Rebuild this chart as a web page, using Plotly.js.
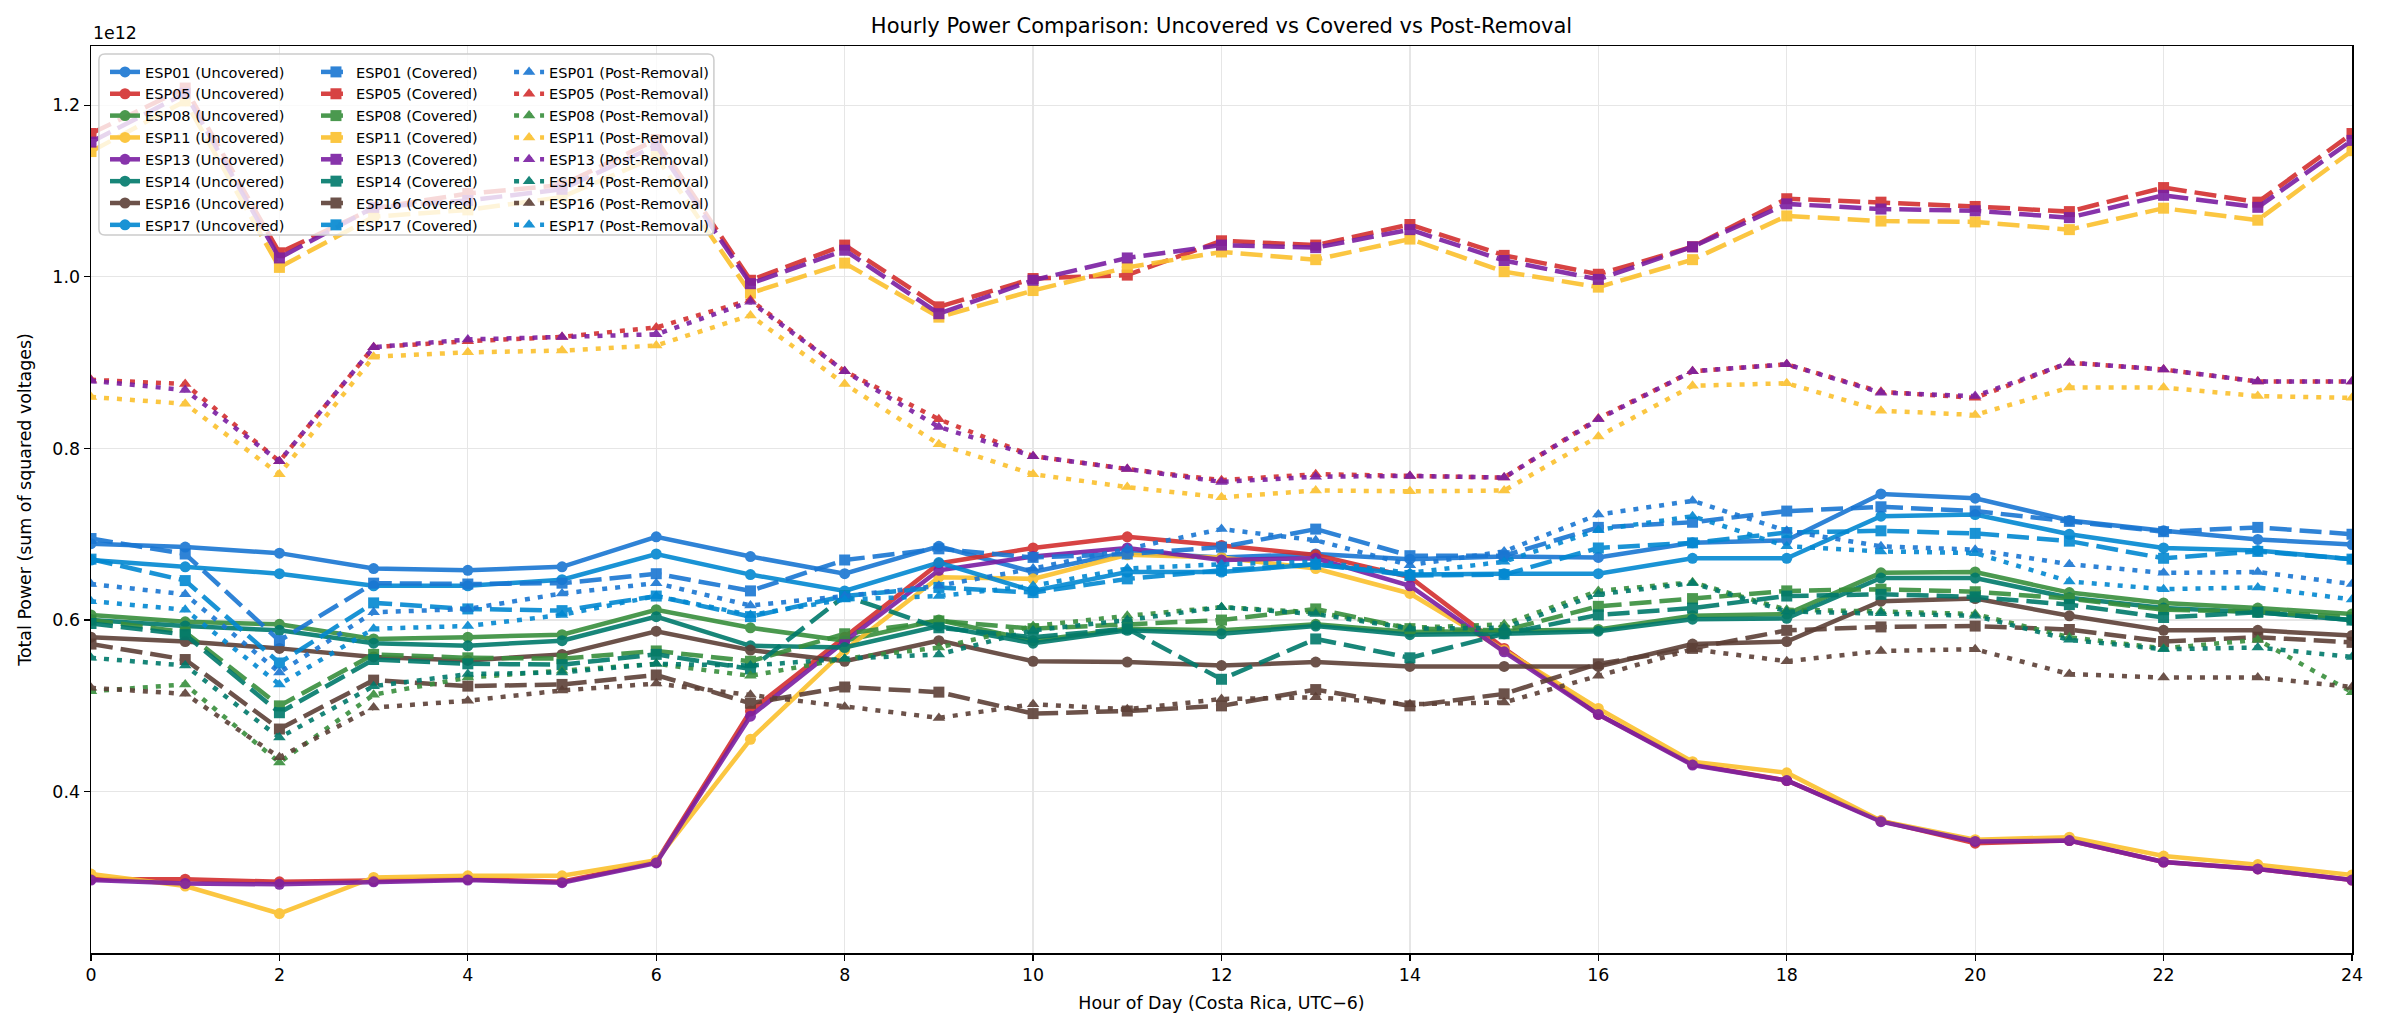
<!DOCTYPE html>
<html>
<head>
<meta charset="utf-8">
<script src="https://cdn.plot.ly/plotly-3.0.1.min.js"></script>
<style>
  body { margin: 0; background: #fff; }
  #grafico { width: 2384px; height: 1031px; }
</style>
</head>
<body>
<div id="grafico"></div>
<script>
// hours of the day (x axis)
const hours = [0, 1, 2, 3, 4, 5, 6, 7, 8, 9, 10, 11, 12, 13, 14, 15, 16, 17, 18, 19, 20, 21, 22, 23, 24];
const xTicks = [0, 2, 4, 6, 8, 10, 12, 14, 16, 18, 20, 22, 24];
const yTicks = [0.4, 0.6, 0.8, 1.0, 1.2];

const sensors = ['ESP01', 'ESP05', 'ESP08', 'ESP11', 'ESP13', 'ESP14', 'ESP16', 'ESP17'];
const sensorColors = ['#1976D2', '#D32F2F', '#388E3C', '#FBC02D', '#7B1FA2', '#00796B', '#5D4037', '#0288D1'];

// total power, in units of 1e12
const uncoveredESP01 = [0.689, 0.685, 0.678, 0.660, 0.658, 0.662, 0.697, 0.674, 0.654, 0.686, 0.656, 0.679, 0.673, 0.677, 0.671, 0.674, 0.673, 0.690, 0.693, 0.747, 0.742, 0.716, 0.704, 0.694, 0.688];
const uncoveredESP05 = [0.298, 0.298, 0.295, 0.296, 0.298, 0.295, 0.318, 0.494, 0.580, 0.666, 0.684, 0.697, 0.687, 0.676, 0.650, 0.567, 0.490, 0.432, 0.413, 0.366, 0.340, 0.343, 0.318, 0.310, 0.297];
const uncoveredESP08 = [0.606, 0.598, 0.595, 0.578, 0.580, 0.583, 0.612, 0.591, 0.576, 0.600, 0.576, 0.590, 0.588, 0.595, 0.586, 0.587, 0.589, 0.605, 0.607, 0.655, 0.656, 0.632, 0.620, 0.614, 0.607];
const uncoveredESP11 = [0.304, 0.290, 0.258, 0.300, 0.302, 0.302, 0.320, 0.461, 0.565, 0.650, 0.648, 0.676, 0.673, 0.660, 0.631, 0.565, 0.497, 0.435, 0.422, 0.366, 0.344, 0.347, 0.325, 0.315, 0.303];
const uncoveredESP13 = [0.297, 0.293, 0.292, 0.295, 0.297, 0.294, 0.317, 0.488, 0.575, 0.658, 0.674, 0.684, 0.670, 0.672, 0.640, 0.563, 0.490, 0.431, 0.413, 0.365, 0.342, 0.343, 0.318, 0.310, 0.297];
const uncoveredESP14 = [0.600, 0.593, 0.588, 0.573, 0.570, 0.576, 0.604, 0.570, 0.568, 0.593, 0.573, 0.588, 0.584, 0.593, 0.583, 0.584, 0.587, 0.601, 0.602, 0.649, 0.649, 0.626, 0.614, 0.609, 0.600];
const uncoveredESP16 = [0.580, 0.575, 0.567, 0.557, 0.553, 0.560, 0.587, 0.565, 0.552, 0.576, 0.552, 0.551, 0.547, 0.551, 0.546, 0.546, 0.546, 0.572, 0.575, 0.622, 0.625, 0.605, 0.588, 0.588, 0.582];
const uncoveredESP17 = [0.670, 0.662, 0.654, 0.640, 0.640, 0.647, 0.677, 0.653, 0.634, 0.667, 0.634, 0.656, 0.656, 0.665, 0.653, 0.654, 0.654, 0.672, 0.672, 0.721, 0.723, 0.700, 0.684, 0.681, 0.671];

const coveredESP01 = [0.695, 0.677, 0.576, 0.643, 0.642, 0.643, 0.654, 0.634, 0.670, 0.683, 0.673, 0.677, 0.685, 0.706, 0.675, 0.675, 0.708, 0.714, 0.727, 0.732, 0.727, 0.715, 0.703, 0.708, 0.700];
const coveredESP05 = [1.167, 1.220, 1.028, 1.080, 1.097, 1.107, 1.160, 0.996, 1.037, 0.965, 0.998, 1.002, 1.042, 1.037, 1.061, 1.025, 1.003, 1.035, 1.091, 1.087, 1.082, 1.076, 1.104, 1.087, 1.167];
const coveredESP08 = [0.600, 0.586, 0.500, 0.560, 0.556, 0.555, 0.564, 0.552, 0.584, 0.599, 0.590, 0.595, 0.600, 0.613, 0.590, 0.588, 0.616, 0.625, 0.634, 0.636, 0.633, 0.625, 0.612, 0.610, 0.603];
const coveredESP11 = [1.146, 1.205, 1.011, 1.070, 1.078, 1.093, 1.140, 0.981, 1.016, 0.953, 0.984, 1.011, 1.029, 1.020, 1.044, 1.006, 0.988, 1.020, 1.071, 1.065, 1.064, 1.055, 1.080, 1.066, 1.147];
const coveredESP13 = [1.157, 1.214, 1.022, 1.081, 1.089, 1.102, 1.153, 0.992, 1.031, 0.957, 0.996, 1.022, 1.037, 1.034, 1.055, 1.019, 0.997, 1.035, 1.085, 1.079, 1.077, 1.069, 1.095, 1.081, 1.159];
const coveredESP14 = [0.596, 0.583, 0.492, 0.554, 0.549, 0.548, 0.560, 0.543, 0.628, 0.591, 0.580, 0.590, 0.531, 0.578, 0.556, 0.584, 0.606, 0.614, 0.628, 0.630, 0.627, 0.618, 0.603, 0.609, 0.600];
const coveredESP16 = [0.572, 0.554, 0.473, 0.530, 0.523, 0.525, 0.536, 0.503, 0.522, 0.516, 0.491, 0.494, 0.500, 0.519, 0.500, 0.514, 0.549, 0.567, 0.588, 0.592, 0.593, 0.589, 0.575, 0.580, 0.574];
const coveredESP17 = [0.671, 0.646, 0.550, 0.620, 0.613, 0.611, 0.628, 0.604, 0.628, 0.638, 0.632, 0.648, 0.658, 0.665, 0.652, 0.653, 0.684, 0.690, 0.702, 0.704, 0.701, 0.692, 0.672, 0.680, 0.671];

const postESP01 = [0.642, 0.630, 0.539, 0.609, 0.613, 0.631, 0.643, 0.617, 0.628, 0.640, 0.660, 0.683, 0.706, 0.693, 0.664, 0.680, 0.723, 0.739, 0.704, 0.686, 0.682, 0.665, 0.655, 0.656, 0.642];
const postESP05 = [0.880, 0.875, 0.785, 0.918, 0.925, 0.930, 0.941, 0.973, 0.890, 0.834, 0.791, 0.776, 0.763, 0.770, 0.768, 0.766, 0.835, 0.890, 0.898, 0.866, 0.859, 0.900, 0.892, 0.878, 0.878];
const postESP08 = [0.517, 0.525, 0.434, 0.513, 0.533, 0.541, 0.549, 0.535, 0.555, 0.568, 0.593, 0.605, 0.615, 0.609, 0.591, 0.595, 0.634, 0.644, 0.612, 0.610, 0.607, 0.580, 0.567, 0.577, 0.516];
const postESP11 = [0.860, 0.852, 0.770, 0.907, 0.912, 0.914, 0.920, 0.955, 0.875, 0.805, 0.770, 0.755, 0.743, 0.751, 0.750, 0.751, 0.814, 0.873, 0.876, 0.844, 0.839, 0.871, 0.871, 0.861, 0.859];
const postESP13 = [0.879, 0.868, 0.785, 0.918, 0.927, 0.930, 0.933, 0.971, 0.890, 0.825, 0.791, 0.776, 0.761, 0.767, 0.768, 0.766, 0.834, 0.890, 0.898, 0.865, 0.861, 0.900, 0.892, 0.878, 0.878];
const postESP14 = [0.556, 0.547, 0.463, 0.523, 0.537, 0.539, 0.549, 0.547, 0.555, 0.560, 0.588, 0.600, 0.615, 0.607, 0.590, 0.591, 0.630, 0.643, 0.610, 0.608, 0.605, 0.577, 0.566, 0.568, 0.557];
const postESP16 = [0.521, 0.514, 0.440, 0.498, 0.506, 0.518, 0.526, 0.513, 0.499, 0.486, 0.502, 0.496, 0.508, 0.510, 0.502, 0.504, 0.535, 0.566, 0.552, 0.564, 0.566, 0.537, 0.533, 0.533, 0.522];
const postESP17 = [0.622, 0.612, 0.525, 0.590, 0.593, 0.606, 0.628, 0.606, 0.624, 0.628, 0.640, 0.660, 0.665, 0.668, 0.655, 0.668, 0.705, 0.721, 0.686, 0.680, 0.678, 0.645, 0.636, 0.638, 0.624];

const uncovered = [uncoveredESP01, uncoveredESP05, uncoveredESP08, uncoveredESP11, uncoveredESP13, uncoveredESP14, uncoveredESP16, uncoveredESP17];
const covered = [coveredESP01, coveredESP05, coveredESP08, coveredESP11, coveredESP13, coveredESP14, coveredESP16, coveredESP17];
const postRemoval = [postESP01, postESP05, postESP08, postESP11, postESP13, postESP14, postESP16, postESP17];

// rounded box in paper units (corner radius given in pixels of the plot area)
function roundedBox(x0, x1, y0, y1, rpx, plotW, plotH) {
    const rx = rpx / plotW;
    const ry = rpx / plotH;
    return `M ${x0 + rx},${y1} L ${x1 - rx},${y1} Q ${x1},${y1} ${x1},${y1 - ry} ` +
           `L ${x1},${y0 + ry} Q ${x1},${y0} ${x1 - rx},${y0} ` +
           `L ${x0 + rx},${y0} Q ${x0},${y0} ${x0},${y0 + ry} ` +
           `L ${x0},${y1 - ry} Q ${x0},${y1} ${x0 + rx},${y1} Z`;
}

document.addEventListener('DOMContentLoaded', () => {
    const font = 'DejaVu Sans, sans-serif';

    // one entry per condition, each one gets its own legend column
    const conditions = [
        { label: 'Uncovered', series: uncovered, symbol: 'circle', dash: 'solid', legend: 'legend' },
        { label: 'Covered', series: covered, symbol: 'square', dash: '22px,8px', legend: 'legend2' },
        { label: 'Post-Removal', series: postRemoval, symbol: 'triangle-up', dash: '5px,8px', legend: 'legend3' }
    ];

    const traces = [];
    conditions.forEach((cond) => {
        sensors.forEach((sensor, i) => {
            traces.push({
                x: hours,
                y: cond.series[i],
                type: 'scatter',
                mode: 'lines+markers',
                name: `${sensor} (${cond.label})`,
                legend: cond.legend,
                opacity: 0.9,
                line: { color: sensorColors[i], width: 4.5, dash: cond.dash },
                marker: { color: sensorColors[i], symbol: cond.symbol, size: 11 }
            });
        });
    });

    const legendBase = {
        y: 0.989, yanchor: 'top', xanchor: 'left',
        bgcolor: 'rgba(0,0,0,0)', borderwidth: 0,
        font: { family: font, size: 14.5, color: '#000' },
        tracegroupgap: 0
    };

    const axisBase = {
        showgrid: true,
        gridcolor: '#e6e6e6',
        gridwidth: 1.3,
        showline: true,
        mirror: true,
        linecolor: '#000',
        linewidth: 1.5,
        ticks: 'outside',
        ticklen: 6,
        tickwidth: 1.3,
        tickcolor: '#000',
        zeroline: false,
        tickfont: { family: font, size: 17.4, color: '#000' }
    };

    const layout = {
        width: 2384,
        height: 1031,
        margin: { l: 91, r: 32, t: 46, b: 78 },
        paper_bgcolor: '#fff',
        plot_bgcolor: '#fff',
        font: { family: font, color: '#000' },
        title: {
            text: 'Hourly Power Comparison: Uncovered vs Covered vs Post-Removal',
            font: { family: font, size: 21, color: '#000' },
            x: 0.5, xref: 'paper', xanchor: 'center',
            y: 1 - 26 / 1031, yref: 'container', yanchor: 'middle'
        },
        xaxis: Object.assign({}, axisBase, {
            range: [0, 24],
            tickvals: xTicks,
            title: { text: 'Hour of Day (Costa Rica, UTC\u22126)', font: { family: font, size: 17.4, color: '#000' }, standoff: 12 }
        }),
        yaxis: Object.assign({}, axisBase, {
            range: [0.212, 1.269],
            tickvals: yTicks,
            tickformat: '.1f',
            title: { text: 'Total Power (sum of squared voltages)', font: { family: font, size: 17.4, color: '#000' }, standoff: 16 }
        }),
        legend: Object.assign({}, legendBase, { x: 0.0062 }),
        legend2: Object.assign({}, legendBase, { x: 0.0995 }),
        legend3: Object.assign({}, legendBase, { x: 0.1849 }),
        // frame behind the three legend columns
        shapes: [{
            type: 'path', xref: 'paper', yref: 'paper', layer: 'above',
            path: roundedBox(0.0035, 0.2755, 0.7916, 0.9912, 6, 2261, 907),
            fillcolor: 'rgba(255,255,255,0.8)',
            line: { color: '#cccccc', width: 1.5 }
        }],
        annotations: [{
            text: '1e12', xref: 'paper', yref: 'paper', x: 0, y: 1,
            xanchor: 'left', yanchor: 'bottom', yshift: 1, showarrow: false,
            font: { family: font, size: 17.4, color: '#000' }
        }]
    };

    Plotly.newPlot('grafico', traces, layout, { displayModeBar: false, staticPlot: true });
});
</script>
</body>
</html>
